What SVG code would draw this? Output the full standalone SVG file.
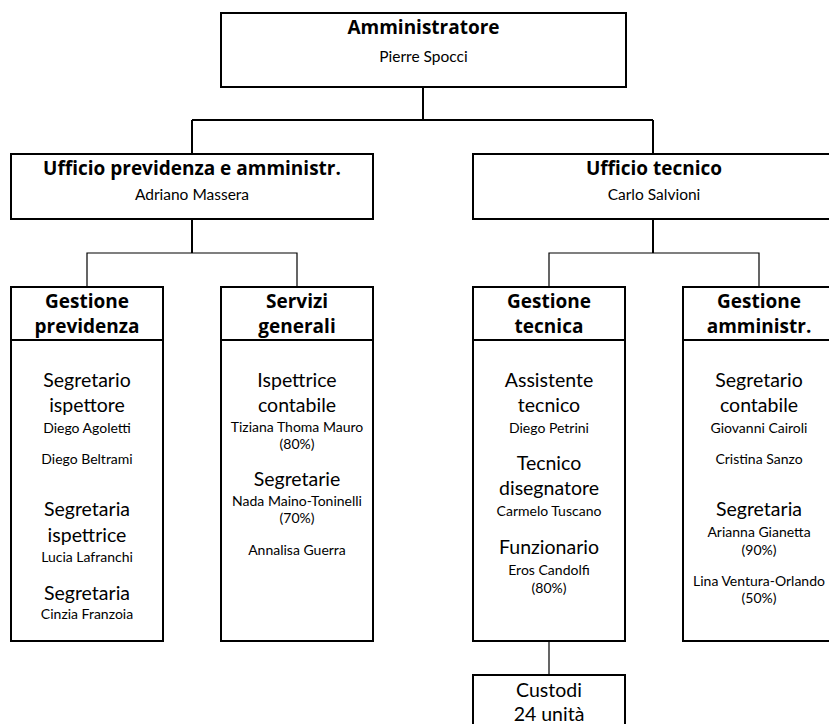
<svg xmlns="http://www.w3.org/2000/svg" width="829" height="724" viewBox="0 0 829 724">
<style>
.box{fill:#fff;stroke:#000;stroke-width:2}
.c2{fill:none;stroke:#000;stroke-width:2}
.c1{fill:none;stroke:#000;stroke-width:1.2}
text{font-family:Lato,"Open Sans",sans-serif;fill:#000;text-anchor:middle}
.t{font-family:"Open Sans",Lato,sans-serif;font-weight:bold;font-size:19px}
.h{font-family:"Open Sans",Lato,sans-serif;font-weight:bold;font-size:19px}
.r{font-size:19.5px}
.m{font-size:15.5px}
.n{font-size:14px}
</style>
<rect width="829" height="724" fill="#fff"/>
<g id="connectors">
<path class="c2" d="M423,87 V120 M192,120 H653 M192,120 V154 M653,120 V153"/>
<path class="c2" d="M192,219 V253 M653,219 V253"/>
<path class="c1" d="M87,287 V253 H297 V287 M549,287 V253 H759 V287 M549,641 V675"/>
</g>
<g id="amministratore">
<rect class="box" x="221" y="13" width="405" height="74"/>
<text class="t" x="423.5" y="34">Amministratore</text>
<text class="m" x="423.5" y="62">Pierre Spocci</text>
</g>
<g id="ufficio-previdenza">
<rect class="box" x="11" y="154" width="362" height="65"/>
<text class="t" x="192" y="175">Ufficio previdenza e amministr.</text>
<text class="m" x="192" y="200">Adriano Massera</text>
</g>
<g id="ufficio-tecnico">
<rect class="box" x="473" y="154" width="362" height="65"/>
<text class="t" x="654" y="175">Ufficio tecnico</text>
<text class="m" x="654" y="200">Carlo Salvioni</text>
</g>
<g id="gestione-previdenza">
<rect class="box" x="11" y="287" width="152" height="354"/>
<line class="c2" x1="11" y1="340" x2="163" y2="340"/>
<text class="h" x="87" y="308">Gestione</text>
<text class="h" x="87" y="333">previdenza</text>
<text class="r" x="87" y="387">Segretario</text>
<text class="r" x="87" y="412">ispettore</text>
<text class="n" x="87" y="433">Diego Agoletti</text>
<text class="n" x="87" y="464">Diego Beltrami</text>
<text class="r" x="87" y="516">Segretaria</text>
<text class="r" x="87" y="542">ispettrice</text>
<text class="n" x="87" y="562">Lucia Lafranchi</text>
<text class="r" x="87" y="600">Segretaria</text>
<text class="n" x="87" y="619">Cinzia Franzoia</text>
</g>
<g id="servizi-generali">
<rect class="box" x="221" y="287" width="152" height="354"/>
<line class="c2" x1="221" y1="340" x2="373" y2="340"/>
<text class="h" x="297" y="308">Servizi</text>
<text class="h" x="297" y="333">generali</text>
<text class="r" x="297" y="387">Ispettrice</text>
<text class="r" x="297" y="412">contabile</text>
<text class="n" x="297" y="432">Tiziana Thoma Mauro</text>
<text class="n" x="297" y="449">(80%)</text>
<text class="r" x="297" y="486">Segretarie</text>
<text class="n" x="297" y="506">Nada Maino-Toninelli</text>
<text class="n" x="297" y="523">(70%)</text>
<text class="n" x="297" y="555">Annalisa Guerra</text>
</g>
<g id="gestione-tecnica">
<rect class="box" x="473" y="287" width="152" height="354"/>
<line class="c2" x1="473" y1="340" x2="625" y2="340"/>
<text class="h" x="549" y="308">Gestione</text>
<text class="h" x="549" y="333">tecnica</text>
<text class="r" x="549" y="387">Assistente</text>
<text class="r" x="549" y="412">tecnico</text>
<text class="n" x="549" y="433">Diego Petrini</text>
<text class="r" x="549" y="470">Tecnico</text>
<text class="r" x="549" y="495">disegnatore</text>
<text class="n" x="549" y="516">Carmelo Tuscano</text>
<text class="r" x="549" y="554">Funzionario</text>
<text class="n" x="549" y="575">Eros Candolfi</text>
<text class="n" x="549" y="593">(80%)</text>
</g>
<g id="gestione-amministr">
<rect class="box" x="683" y="287" width="152" height="354"/>
<line class="c2" x1="683" y1="340" x2="835" y2="340"/>
<text class="h" x="759" y="308">Gestione</text>
<text class="h" x="759" y="333">amministr.</text>
<text class="r" x="759" y="387">Segretario</text>
<text class="r" x="759" y="412">contabile</text>
<text class="n" x="759" y="433">Giovanni Cairoli</text>
<text class="n" x="759" y="464">Cristina Sanzo</text>
<text class="r" x="759" y="516">Segretaria</text>
<text class="n" x="759" y="537">Arianna Gianetta</text>
<text class="n" x="759" y="555">(90%)</text>
<text class="n" x="759" y="586">Lina Ventura-Orlando</text>
<text class="n" x="759" y="603">(50%)</text>
</g>
<g id="custodi">
<rect class="box" x="473" y="675" width="152" height="70"/>
<text class="r" x="549" y="697">Custodi</text>
<text class="r" x="549" y="721">24 unità</text>
</g>
</svg>
